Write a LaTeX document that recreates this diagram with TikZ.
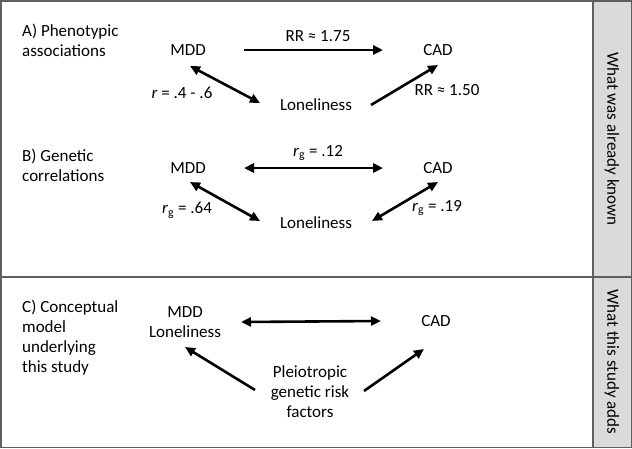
\documentclass[tikz,border=0pt]{standalone}
\usepackage{fontspec}
\setmainfont{Carlito}
\usepackage{tikz}
\usetikzlibrary{arrows.meta, positioning}
\definecolor{sidegray}{RGB}{218,218,218}
\definecolor{framegray}{RGB}{95,95,95}

\begin{document}
\begin{tikzpicture}[
    x=1pt, y=-1pt,
    every node/.style={font=\fontsize{17}{20}\selectfont, inner sep=1pt},
    var/.style={align=center},
    panel/.style={align=left, anchor=west},
    stat/.style={align=center},
    side/.style={rotate=-90},
    arrow/.style={-{Triangle[length=10pt, width=9pt]}, line width=2.6pt},
    darrow/.style={{Triangle[length=10pt, width=9pt]}-{Triangle[length=10pt, width=9pt]}, line width=2.6pt},
    frame/.style={draw=framegray, line width=1.5pt}
]

% frame and side bars
\fill[white] (0,0) rectangle (632,448);
\draw[frame] (0.75,0.75) rectangle (631.25,447.25);
\draw[frame] (0.75,277) -- (593,277);
\draw[frame, fill=sidegray] (593,0.75) rectangle (631.25,277);
\draw[frame, fill=sidegray] (593,277) rectangle (631.25,447.25);
\node[side] (known) at (612,139) {What was already known};
\node[side] (adds) at (612,362) {What this study adds};

% A) phenotypic associations
\node[panel] (labA) at (21,40) {A) Phenotypic\\associations};
\node[var] (mddA) at (188,50) {MDD};
\node[var] (cadA) at (438,50) {CAD};
\node[var] (lonA) at (316,105) {Loneliness};

\draw[arrow] ([xshift=56pt]mddA.center) -- ([xshift=-55pt]cadA.center);
\draw[darrow] ([shift={(2,16)}]mddA.center) -- ([shift={(-56,-2)}]lonA.center);
\draw[arrow] ([shift={(55,0)}]lonA.center) -- ([shift={(0,15)}]cadA.center);

\node[stat] (rrA) at (318,36) {RR ≈ 1.75};
\node[stat] (rA) at (182,93) {\textit{r} = .4 - .6};
\node[stat] (rrB) at (447,90) {RR ≈ 1.50};

% B) genetic correlations
\node[panel] (labB) at (21,165) {B) Genetic\\correlations};
\node[var] (mddB) at (188,168) {MDD};
\node[var] (cadB) at (438,168) {CAD};
\node[var] (lonB) at (316,223) {Loneliness};

\draw[darrow] ([xshift=56pt]mddB.center) -- ([xshift=-55pt]cadB.center);
\draw[darrow] ([shift={(2,14)}]mddB.center) -- ([shift={(-56,-2)}]lonB.center);
\draw[darrow] ([shift={(56,-2)}]lonB.center) -- ([shift={(0,14)}]cadB.center);

\node[stat] (rgMC) at (318,153) {\textit{r}\textsubscript{g} = .12};
\node[stat] (rgML) at (187,210) {\textit{r}\textsubscript{g} = .64};
\node[stat] (rgLC) at (437,208) {\textit{r}\textsubscript{g} = .19};

% C) conceptual model
\node[panel] (labC) at (21,338) {C) Conceptual\\model\\underlying\\this study};
\node[var] (mddC) at (185,322) {MDD\\Loneliness};
\node[var] (cadC) at (436,321) {CAD};
\node[var] (pleio) at (310,392) {Pleiotropic\\genetic risk\\factors};

\draw[darrow] ([xshift=56pt]mddC.center) -- ([xshift=-55pt]cadC.center);
\draw[arrow] ([shift={(-55,-2)}]pleio.center) -- ([shift={(0,25)}]mddC.center);
\draw[arrow] ([shift={(54,-1)}]pleio.center) -- ([shift={(-12,28)}]cadC.center);

\end{tikzpicture}
\end{document}
